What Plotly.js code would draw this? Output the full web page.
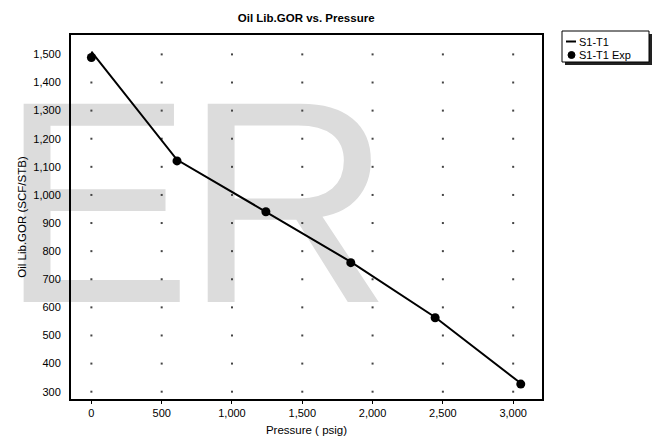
<!DOCTYPE html>
<html>
<head>
<meta charset="utf-8">
<script src="https://cdn.plot.ly/plotly-3.0.1.min.js"></script>
<style>
  html, body { margin: 0; padding: 0; background: #ffffff; width: 657px; height: 439px; overflow: hidden; }
  #wm { position: absolute; left: 0px; top: 58px; z-index: 0; font-family: "Liberation Sans", Arial, sans-serif;
        font-size: 288px; line-height: 288px; color: #dcdcdc; white-space: nowrap; letter-spacing: -8px; }
  #chart { position: absolute; left: 0; top: 0; width: 657px; height: 439px; z-index: 1; }
</style>
</head>
<body>
<div id="wm">ER</div>
<div id="chart"></div>
<script>
// Simulated curve (S1-T1)
const simPressure = [0, 300, 550, 609, 1241, 1845, 2445, 3054];
const simGOR      = [1510, 1320, 1165, 1125, 940, 762, 565, 330];
// Experimental points (S1-T1 Exp)
const expPressure = [0, 609, 1241, 1845, 2445, 3054];
const expGOR      = [1489, 1121, 940, 759, 563, 327];
// Axis ticks
const xTicks = [0, 500, 1000, 1500, 2000, 2500, 3000];
const yTicks = [300, 400, 500, 600, 700, 800, 900, 1000, 1100, 1200, 1300, 1400, 1500];
// Legend labels
const seriesNames = ['S1-T1', 'S1-T1 Exp'];

// dotted grid points at tick intersections
const gx = [], gy = [];
xTicks.forEach(x => yTicks.forEach(y => { gx.push(x); gy.push(y); }));

const font = "Liberation Sans, Arial, sans-serif";

const traces = [
  { x: gx, y: gy, mode: 'markers', type: 'scatter', showlegend: false, hoverinfo: 'skip',
    marker: { size: 2, color: '#444', symbol: 'square' } },
  { x: simPressure, y: simGOR, mode: 'lines', type: 'scatter', name: seriesNames[0], showlegend: false,
    line: { color: '#000', width: 2 } },
  { x: expPressure, y: expGOR, mode: 'markers', type: 'scatter', name: seriesNames[1], showlegend: false,
    marker: { color: '#000', size: 9, symbol: 'circle' } }
];

// compact boxed legend (positions in pixels converted to paper coordinates)
const L = 71, R = 542, T = 35, B = 399;
const px = v => (v - L) / (R - L);
const py = v => 1 - (v - T) / (B - T);

const shapes = [
  { type: 'rect', xref: 'paper', yref: 'paper', layer: 'above',
    x0: px(565), x1: px(652), y0: py(65), y1: py(34), fillcolor: '#222', line: { width: 0 } },
  { type: 'rect', xref: 'paper', yref: 'paper', layer: 'above',
    x0: px(562), x1: px(649), y0: py(62), y1: py(31), fillcolor: '#fff', line: { color: '#000', width: 1 } },
  { type: 'line', xref: 'paper', yref: 'paper', layer: 'above',
    x0: px(566), x1: px(576), y0: py(41.5), y1: py(41.5), line: { color: '#000', width: 2 } },
  { type: 'circle', xref: 'paper', yref: 'paper', layer: 'above',
    x0: px(568), x1: px(575), y0: py(58.5), y1: py(51.5), fillcolor: '#000', line: { color: '#000', width: 1 } }
];
const annotations = [
  { xref: 'paper', yref: 'paper', x: px(577), y: py(41.5), xanchor: 'left', yanchor: 'middle',
    text: seriesNames[0], showarrow: false, font: { family: font, size: 11, color: '#000' } },
  { xref: 'paper', yref: 'paper', x: px(577), y: py(55), xanchor: 'left', yanchor: 'middle',
    text: seriesNames[1], showarrow: false, font: { family: font, size: 11, color: '#000' } }
];

const layout = {
  width: 657, height: 439,
  paper_bgcolor: 'rgba(0,0,0,0)', plot_bgcolor: 'rgba(0,0,0,0)',
  margin: { l: L, r: 657 - R, t: T, b: 439 - B, autoexpand: false },
  font: { family: font, size: 11, color: '#000' },
  title: { text: '<b>Oil Lib.GOR vs. Pressure</b>', x: 0.466, xanchor: 'center', y: 0.958, yanchor: 'middle',
           font: { family: font, size: 11.5, color: '#000' } },
  xaxis: {
    range: [-145, 3205], tickvals: xTicks, tickformat: ',', showgrid: false, zeroline: false,
    showline: true, mirror: true, linecolor: '#000', linewidth: 2,
    ticks: 'outside', ticklen: 3, tickcolor: '#000',
    tickfont: { family: font, size: 11, color: '#000' },
    title: { text: 'Pressure ( psig)', standoff: 8, font: { family: font, size: 11.5, color: '#000' } }
  },
  yaxis: {
    range: [274, 1569], tickvals: yTicks, tickformat: ',', showgrid: false, zeroline: false,
    showline: true, mirror: true, linecolor: '#000', linewidth: 2,
    ticks: '', ticklabelstandoff: 6,
    tickfont: { family: font, size: 11, color: '#000' },
    title: { text: 'Oil Lib.GOR (SCF/STB)', standoff: 4, font: { family: font, size: 11.5, color: '#000' } }
  },
  shapes: shapes,
  annotations: annotations,
  showlegend: false
};

Plotly.newPlot('chart', traces, layout, { displayModeBar: false, staticPlot: true });
</script>
</body>
</html>
